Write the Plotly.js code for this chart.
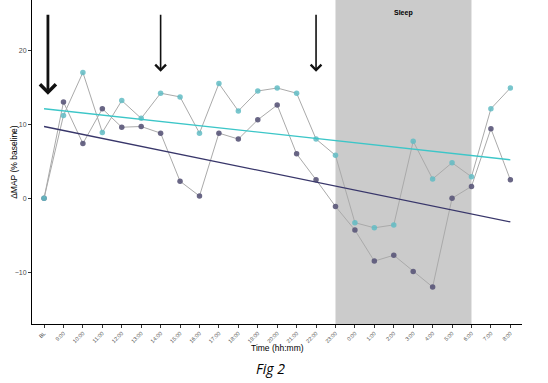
<!DOCTYPE html>
<html>
<head>
<meta charset="utf-8">
<script src="https://cdn.plot.ly/plotly-3.0.1.min.js"></script>
<style>html,body{margin:0;padding:0;background:#fff;}#chart{width:548px;height:383px;}</style>
</head>
<body>
<div id="chart"></div>
<script>
var categories = ['BL','9:00','10:00','11:00','12:00','13:00','14:00','15:00','16:00','17:00','18:00','19:00','20:00','21:00','22:00','23:00','0:00','1:00','2:00','3:00','4:00','5:00','6:00','7:00','8:00'];
var tealValues = [0, 11.2, 17.0, 8.9, 13.2, 10.8, 14.2, 13.7, 8.8, 15.5, 11.8, 14.5, 14.9, 14.2, 8.0, 5.8, -3.3, -4.0, -3.6, 7.7, 2.6, 4.8, 2.9, 12.1, 14.9];
var darkValues = [0, 13.0, 7.4, 12.1, 9.6, 9.7, 8.8, 2.3, 0.3, 8.8, 8.0, 10.6, 12.6, 6.0, 2.5, -1.1, -4.3, -8.5, -7.7, -9.9, -12.0, 0.0, 1.6, 9.4, 2.5];
var trendX = ['BL', '8:00'];
var tealTrend = [12.1, 5.2];
var darkTrend = [9.7, -3.2];
var arrowTimes = ['BL', '14:00', '22:00'];
var sleepStart = '23:00', sleepEnd = '6:00';

var idx = function(c){ return categories.indexOf(c); };

var traces = [
  {x: categories, y: darkValues, type: 'scatter', mode: 'lines+markers',
   line: {color: '#aaaaaa', width: 1},
   marker: {color: '#5a5779', size: 5.5, opacity: 0.9}, hoverinfo: 'skip'},
  {x: categories, y: tealValues, type: 'scatter', mode: 'lines+markers',
   line: {color: '#aaaaaa', width: 1},
   marker: {color: '#62bcc4', size: 5.5, opacity: 0.85}, hoverinfo: 'skip'},
  {x: trendX, y: tealTrend, type: 'scatter', mode: 'lines',
   line: {color: '#3cc6c8', width: 1.3}, hoverinfo: 'skip'},
  {x: trendX, y: darkTrend, type: 'scatter', mode: 'lines',
   line: {color: '#38366a', width: 1.3}, hoverinfo: 'skip'}
];

var annotations = arrowTimes.map(function(t, i){
  return {x: idx(t) + (i === 0 ? 0.2 : 0), y: i === 0 ? 14 : 17.1,
    ax: idx(t) + (i === 0 ? 0.2 : 0), ay: 25.0,
    xref: 'x', yref: 'y', axref: 'x', ayref: 'y',
    showarrow: true, text: '', arrowhead: 4, arrowsize: i === 0 ? 1.1 : 1.3,
    arrowwidth: i === 0 ? 2.8 : 1.6, arrowcolor: '#111111'};
});
annotations.push({x: (idx(sleepStart) + idx(sleepEnd)) / 2, y: 25.0, xref: 'x', yref: 'y',
  xanchor: 'center', yanchor: 'middle',
  text: '<b>Sleep</b>', showarrow: false, font: {family: 'Liberation Sans, Arial', size: 7, color: '#000'}});
annotations.push({x: 0.5, y: -0.074, xref: 'paper', yref: 'paper', text: 'Time (hh:mm)',
  xanchor: 'center', yanchor: 'middle',
  showarrow: false, font: {family: 'Liberation Sans, Arial', size: 8.5, color: '#000'}});
annotations.push({x: -0.037, y: 0.5, xref: 'paper', yref: 'paper', text: 'ΔMAP (% baseline)', textangle: -90,
  xanchor: 'center', yanchor: 'middle',
  showarrow: false, font: {family: 'Liberation Sans, Arial', size: 8.5, color: '#000'}});
annotations.push({x: 0.486, y: -0.136, xref: 'paper', yref: 'paper', text: '<i>Fig 2</i>',
  xanchor: 'center', yanchor: 'middle',
  showarrow: false, font: {family: 'Open Sans, Liberation Sans', size: 14, color: '#000'}});

var layout = {
  width: 548, height: 383,
  margin: {l: 32, r: 26, t: 0, b: 59},
  paper_bgcolor: '#fff', plot_bgcolor: '#fff',
  showlegend: false,
  xaxis: {type: 'category', categoryarray: categories, range: [-0.62, 24.6],
    showgrid: false, zeroline: false, showline: true, linecolor: '#000', linewidth: 1,
    ticks: 'outside', ticklen: 3, tickcolor: '#333', tickangle: -45,
    tickfont: {family: 'Liberation Sans, Arial', size: 5.5, color: '#4d4d4d'}},
  yaxis: {range: [-17.0, 26.8], tickvals: [-10, 0, 10, 20],
    showgrid: false, zeroline: false, showline: true, linecolor: '#000', linewidth: 1,
    ticks: 'outside', ticklen: 3, tickcolor: '#333',
    tickfont: {family: 'Liberation Sans, Arial', size: 7, color: '#4d4d4d'}},
  shapes: [{type: 'rect', xref: 'x', yref: 'paper', x0: idx(sleepStart), x1: idx(sleepEnd), y0: 0, y1: 1,
    fillcolor: '#cbcbcb', line: {width: 0}, layer: 'below'}],
  annotations: annotations
};
Plotly.newPlot('chart', traces, layout, {staticPlot: true});
</script>
</body>
</html>
